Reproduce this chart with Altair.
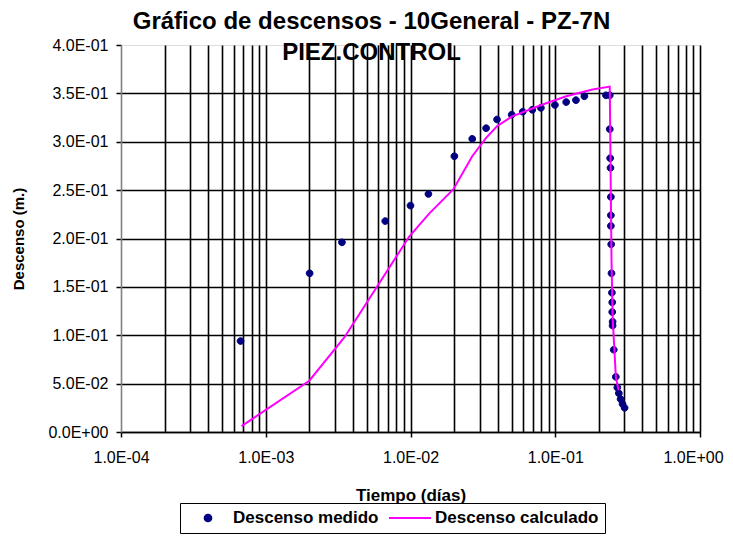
import json
import altair as alt
import pandas as pd

# ---- data ----
t_medido = [0.00067, 0.00201, 0.00336, 0.00669, 0.0100, 0.0133, 0.0201, 0.0267, 0.0333, 0.0396,
            0.0500, 0.0596, 0.0694, 0.0796, 0.0995, 0.119, 0.139, 0.159, 0.224, 0.238,
            0.238, 0.2396, 0.2408, 0.2423, 0.2423, 0.2423, 0.2435, 0.2447, 0.2463, 0.2476,
            0.2476, 0.249, 0.249, 0.2535, 0.262, 0.2685, 0.275, 0.2826, 0.2916, 0.3014]
s_medido = [0.094, 0.164, 0.196, 0.218, 0.234, 0.246, 0.285, 0.303, 0.314, 0.323,
            0.328, 0.331, 0.333, 0.335, 0.338, 0.341, 0.343, 0.347, 0.348, 0.348,
            0.313, 0.283, 0.273, 0.243, 0.224, 0.213, 0.194, 0.164, 0.144, 0.134,
            0.124, 0.114, 0.110, 0.085, 0.057, 0.046, 0.040, 0.034, 0.029, 0.025]

t_calc = [0.00068, 0.0020, 0.0035, 0.0098, 0.0135, 0.0198, 0.0267, 0.0333, 0.0396, 0.050,
          0.080, 0.119, 0.181, 0.238, 0.2447, 0.249, 0.2622, 0.2738]
s_calc = [0.006, 0.053, 0.098, 0.202, 0.226, 0.251, 0.285, 0.304, 0.316, 0.326,
          0.338, 0.347, 0.354, 0.357, 0.178, 0.119, 0.057, 0.043]

series_names = ["Descenso medido", "Descenso calculado"]
series_colors = ["#000080", "#FF00FF"]

x_grid_values = [float(f"{k}e{e}") for e in range(-4, 0) for k in range(1, 10)] + [1.0]
x_major_values = [0.0001, 0.001, 0.01, 0.1, 1.0]
x_major_labels = ["1.0E-04", "1.0E-03", "1.0E-02", "1.0E-01", "1.0E+00"]
y_tick_values = [0, 0.05, 0.1, 0.15, 0.2, 0.25, 0.3, 0.35, 0.4]
y_tick_labels = ["0.0E+00", "5.0E-02", "1.0E-01", "1.5E-01", "2.0E-01",
                 "2.5E-01", "3.0E-01", "3.5E-01", "4.0E-01"]

title_lines = ["Gráfico de descensos - 10General - PZ-7N", "PIEZ.CONTROL"]
x_title = "Tiempo (días)"
y_title = "Descenso (m.)"

# ---- tables ----
df_med = pd.DataFrame({"t": t_medido, "s": s_medido, "serie": series_names[0]})
df_calc = pd.DataFrame({"t": t_calc, "s": s_calc, "orden": list(range(len(t_calc)))})

FONT = "Liberation Sans"
xm = json.dumps(x_major_values)
xl = json.dumps(x_major_labels)
yv = json.dumps(y_tick_values)
yl = json.dumps(y_tick_labels)

x_enc = alt.X(
    "t:Q",
    scale=alt.Scale(type="log", domain=[0.0001, 1.0]),
    axis=alt.Axis(
        title=x_title,
        values=x_grid_values,
        labelExpr=f"indexof({xm}, datum.value) >= 0 ? {xl}[indexof({xm}, datum.value)] : ''",
        labelOffset={"condition": {"test": "datum.value >= 1", "value": -7}, "value": 0},
        tickOpacity={"condition": {"test": f"indexof({xm}, datum.value) < 0", "value": 0}, "value": 1},
        gridOpacity={"condition": {"test": "datum.value <= 0.0001", "value": 0}, "value": 1},
        grid=True, gridColor="black", gridWidth=1.6,
        domainColor="black", domainWidth=1.6,
        tickColor="black", tickSize=5, tickWidth=1.5,
        labelFont=FONT, labelFontSize=16, labelColor="black", labelPadding=12,
        labelFlush=False, labelOverlap=False,
        titleFont=FONT, titleFontSize=17, titleFontWeight="bold", titleColor="black",
        titleY=68, titleBaseline="alphabetic",
    ),
)
y_enc = alt.Y(
    "s:Q",
    scale=alt.Scale(domain=[0, 0.4], nice=False, zero=True),
    axis=alt.Axis(
        title=y_title,
        values=y_tick_values,
        labelExpr=f"{yl}[indexof({yv}, datum.value)]",
        gridOpacity={"condition": {"test": "datum.value >= 0.4", "value": 0}, "value": 1},
        grid=True, gridColor="black", gridWidth=1.6,
        domainColor="#808080", domainWidth=1.6,
        tickColor="black", tickSize=5, tickWidth=1.5,
        labelFont=FONT, labelFontSize=16, labelColor="black", labelPadding=8,
        labelFlush=False, labelOverlap=False,
        titleFont=FONT, titleFontSize=15, titleFontWeight="bold", titleColor="black",
        titleX=-103, titleY=193.5, titleBaseline="middle", titleAngle=270,
    ),
)

circle_path = "M-0.16,0A0.16,0.16,0,1,0,0.16,0A0.16,0.16,0,1,0,-0.16,0Z"
legend = alt.Legend(
    title=None, orient="none", direction="horizontal", legendX=59, legendY=458,
    labelFont=FONT, labelFontSize=17, labelFontWeight="bold", labelColor="black",
    labelLimit=400, gridAlign="none",
    symbolSize=1764, symbolStrokeWidth=2, labelOffset=3, columnPadding=9,
    clipHeight=18, padding=6, strokeColor="black", fillColor="white",
)

puntos = alt.Chart(df_med).mark_point(filled=True, opacity=1, size=1764, strokeWidth=1).encode(
    x=x_enc,
    y=y_enc,
    color=alt.Color("serie:N", scale=alt.Scale(domain=series_names, range=series_colors), legend=legend),
    stroke=alt.Stroke("serie:N", scale=alt.Scale(domain=series_names, range=series_colors), legend=legend),
    shape=alt.Shape("serie:N", scale=alt.Scale(domain=series_names, range=[circle_path, "stroke"]), legend=legend),
)

linea = alt.Chart(df_calc).mark_line(color=series_colors[1], strokeWidth=2).encode(
    x=alt.X("t:Q"),
    y=alt.Y("s:Q"),
    order=alt.Order("orden:Q"),
)

chart = (
    alt.layer(puntos, linea)
    .properties(
        width=579, height=387,
        autosize=alt.AutoSizeParams(type="none"),
        padding={"left": 113, "top": 37, "right": 25, "bottom": 102},
        title=alt.TitleParams(
            text=title_lines, font=FONT, fontSize=24, fontWeight="bold", color="black",
            lineHeight=31, anchor="middle", dx=-39, dy=32, offset=4,
        ),
    )
    .configure_view(stroke="#808080", strokeWidth=1.5)
    .configure(background="white")
)

chart.save("out.html", embed_options={"renderer": "svg", "actions": False})
